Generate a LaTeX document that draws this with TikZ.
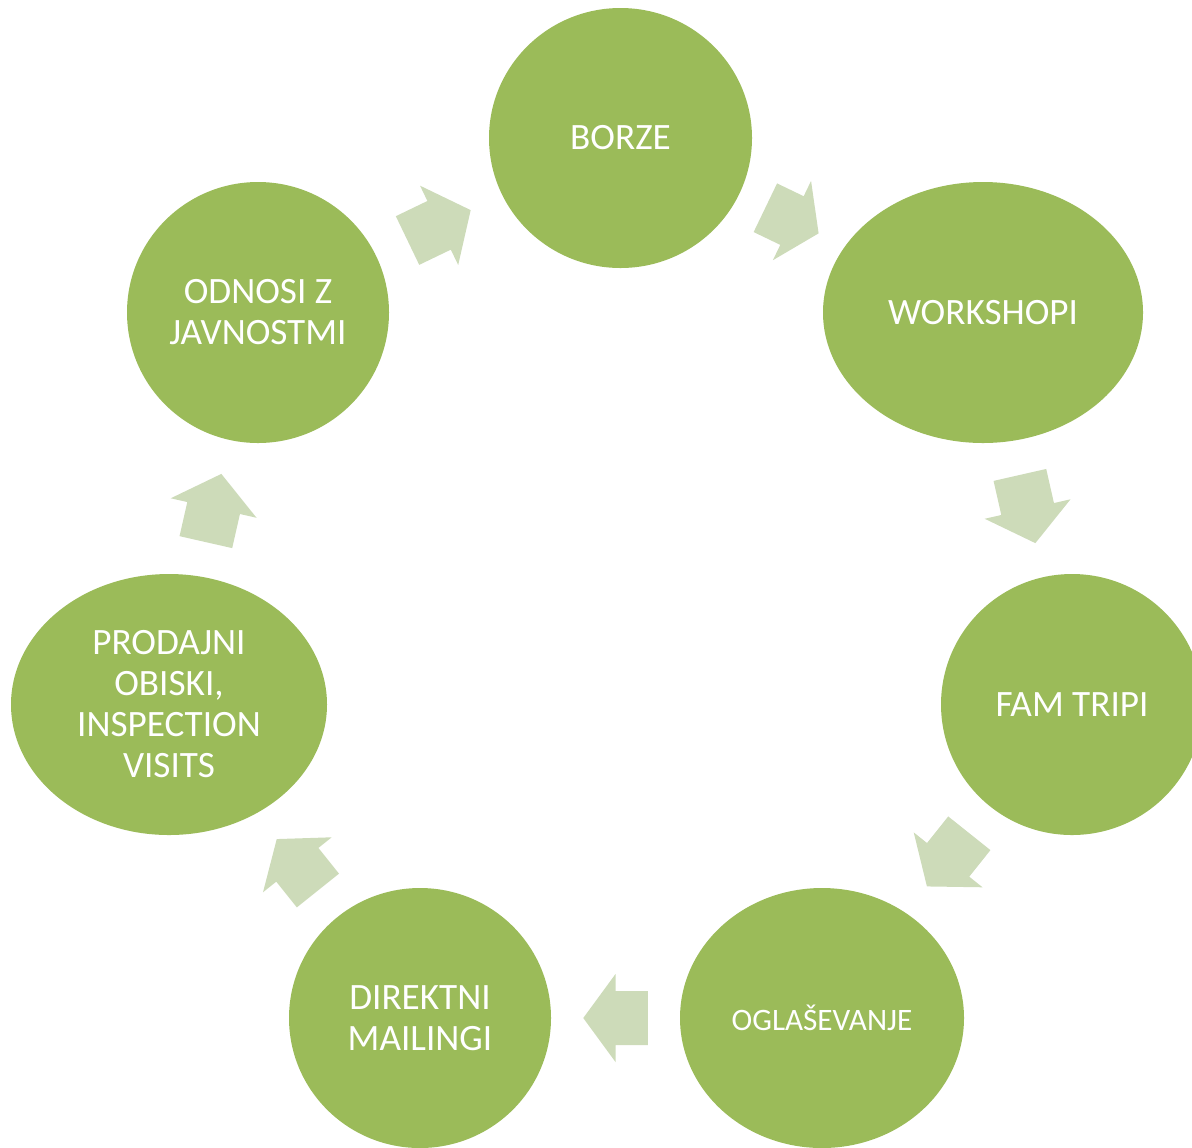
\documentclass[tikz,border=0pt]{standalone}
\usepackage{fontspec}
\setmainfont{Carlito}
\usetikzlibrary{shapes.geometric,calc}

\definecolor{bubblegreen}{RGB}{155,187,89}
\definecolor{arrowgreen}{RGB}{205,219,185}

% block arrow in the middle of the gap between two bubbles
\newcommand{\cyclearrow}[2]{%
  \path (#1) -- (#2) coordinate[pos=.25] (tail) coordinate[pos=.5] (neck) coordinate[pos=.75] (tip);
  \fill[arrowgreen] ($(tail)!13.5pt!90:(tip)$) -- ($(neck)!13.5pt!90:(tip)$) -- ($(neck)!22pt!90:(tip)$) -- (tip)
    -- ($(neck)!22pt!-90:(tip)$) -- ($(neck)!13.5pt!-90:(tip)$) -- ($(tail)!13.5pt!-90:(tip)$) -- cycle;
}

\begin{document}
\begin{tikzpicture}[x=0.5pt,y=-0.5pt,
  bubble/.style={ellipse,fill=bubblegreen,inner sep=0pt,outer sep=0pt,align=center,
    text=white,font=\fontsize{18.6}{20.5}\selectfont}]
\useasboundingbox (0,0) rectangle (1192,1147);
\node[bubble,minimum width=131.5pt,minimum height=130pt] (borze) at (620.5,138) {BORZE};
\node[bubble,minimum width=160pt,minimum height=130.5pt] (workshopi) at (983,312.5) {WORKSHOPI};
\node[bubble,minimum width=131pt,minimum height=130.5pt] (famtripi) at (1072,704.5) {FAM TRIPI};
\node[bubble,minimum width=142pt,minimum height=130pt,font=\fontsize{15.6}{17}\selectfont] (oglasevanje) at (822,1018) {OGLAŠEVANJE};
\node[bubble,minimum width=131pt,minimum height=130pt] (direktni) at (420,1018) {DIREKTNI\\MAILINGI};
\node[bubble,minimum width=158pt,minimum height=130.5pt] (prodajni) at (169,704.5) {PRODAJNI\\OBISKI,\\INSPECTION\\VISITS};
\node[bubble,minimum width=131pt,minimum height=130.5pt] (odnosi) at (258,312.5) {ODNOSI Z\\JAVNOSTMI};
\cyclearrow{borze}{workshopi}
\cyclearrow{workshopi}{famtripi}
\cyclearrow{famtripi}{oglasevanje}
\cyclearrow{oglasevanje}{direktni}
\cyclearrow{direktni}{prodajni}
\cyclearrow{prodajni}{odnosi}
\cyclearrow{odnosi}{borze}
\end{tikzpicture}
\end{document}
